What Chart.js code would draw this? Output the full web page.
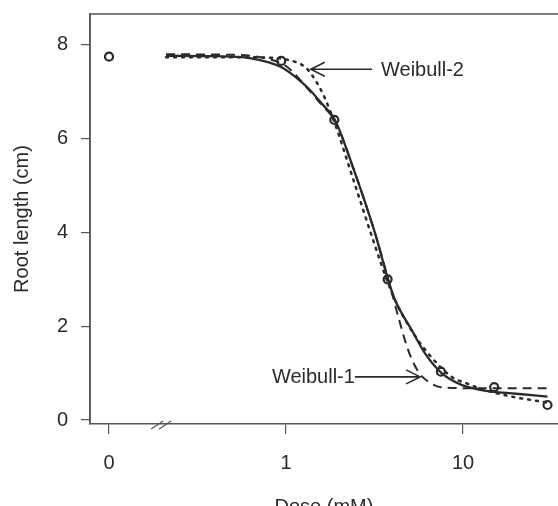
<!DOCTYPE html>
<html lang="en">
<head>
    <meta charset="UTF-8">
    <title>Root length vs dose</title>
    <style>
        body {
            margin: 0;
            background: #fff;
        }
        .wrap {
            width: 558px;
            height: 506px;
        }
    </style>
</head>
<body>
    <div class="wrap"><canvas id="doseChart"></canvas></div>

    <script src="https://cdn.jsdelivr.net/npm/chart.js"></script>
    <script>
        // observed root length (cm) at each dose (mM); dose 0 is drawn at zeroPos on the log axis
        const doses = [0, 0.94, 1.875, 3.75, 7.5, 15, 30];
        const rootLength = [7.75, 7.66, 6.4, 3.0, 1.03, 0.70, 0.32];
        const zeroPos = 0.1;

        // fitted curves
        const llDose = [0.21, 0.4, 0.6, 0.8, 0.95, 1.12, 1.34, 1.59, 1.89, 2.39, 3.18, 3.77, 4.13, 5.13, 6.1, 7.57, 9.8, 12.7, 20, 30];
        const llFit  = [7.77, 7.76, 7.73, 7.63, 7.52, 7.33, 7.07, 6.75, 6.40, 5.39, 3.99, 3.0, 2.56, 1.92, 1.42, 1.0, 0.75, 0.64, 0.56, 0.50];

        const w1Dose = [0.21, 0.5, 0.8, 1.0, 1.34, 1.59, 1.89, 2.39, 3.18, 3.77, 4.31, 4.9, 5.59, 6.37, 7.5, 10, 30];
        const w1Fit  = [7.80, 7.79, 7.70, 7.55, 7.05, 6.72, 6.38, 5.39, 3.99, 3.02, 2.20, 1.49, 1.03, 0.82, 0.70, 0.68, 0.68];

        const w2Dose = [0.21, 0.5, 0.8, 1.03, 1.28, 1.40, 1.56, 1.66, 1.89, 2.39, 3.18, 3.77, 4.3, 5.24, 6.23, 8.63, 10.5, 13, 16, 20, 25, 30];
        const w2Fit  = [7.74, 7.74, 7.73, 7.68, 7.53, 7.36, 7.07, 6.86, 6.32, 5.15, 3.72, 2.92, 2.42, 1.85, 1.46, 0.92, 0.78, 0.65, 0.56, 0.48, 0.42, 0.37];

        // axis ticks
        const xTicks = [zeroPos, 1, 10];
        const xTickLabels = ['0', '1', '10'];
        const yTicks = [0, 2, 4, 6, 8];

        // arrow labels: text, arrow tip (dose, value), arrow tail dose
        const noteText = ['Weibull-2', 'Weibull-1'];
        const noteTipDose = [1.38, 5.72];
        const noteTipVal = [7.48, 0.92];
        const noteTailDose = [3.06, 2.45];
        const breakDose = 0.197;

        const ink = '#2a2a2a';
        const frame = '#555';
        const fontFamily = '"Liberation Sans", Arial, sans-serif';

        const toXY = (xs, ys) => xs.map((d, i) => ({ x: d, y: ys[i] }));

        // no extra room for half-height tick labels: the frame sits where it sits
        const noPad = (s) => {
            s.paddingTop = 0; s.paddingBottom = 0;
            s.paddingLeft = 0; s.paddingRight = 0;
        };

        const decor = {
            id: 'decor',
            afterDraw(chart) {
                const { ctx, chartArea: a, scales: { x, y } } = chart;
                ctx.save();
                // frame top + left
                ctx.strokeStyle = frame;
                ctx.lineWidth = 1.5;
                ctx.beginPath();
                ctx.moveTo(a.left, a.bottom);
                ctx.lineTo(a.left, a.top);
                ctx.lineTo(a.right + 2, a.top);
                ctx.stroke();

                // axis break marks
                const bx = x.getPixelForValue(breakDose);
                ctx.lineWidth = 1.2;
                ctx.beginPath();
                ctx.moveTo(bx - 10, a.bottom + 5); ctx.lineTo(bx + 2, a.bottom - 3);
                ctx.moveTo(bx - 2, a.bottom + 5); ctx.lineTo(bx + 10, a.bottom - 3);
                ctx.stroke();

                // labels with arrows
                ctx.strokeStyle = ink;
                ctx.fillStyle = ink;
                ctx.lineWidth = 1.6;
                ctx.font = '20px ' + fontFamily;
                ctx.textBaseline = 'middle';
                noteText.forEach((t, i) => {
                    const tx = x.getPixelForValue(noteTipDose[i]);
                    const ty = y.getPixelForValue(noteTipVal[i]);
                    const sx = x.getPixelForValue(noteTailDose[i]);
                    const dir = sx > tx ? 1 : -1;
                    ctx.beginPath();
                    ctx.moveTo(sx, ty); ctx.lineTo(tx, ty);
                    ctx.moveTo(tx + dir * 14, ty - 7); ctx.lineTo(tx, ty); ctx.lineTo(tx + dir * 14, ty + 7);
                    ctx.stroke();
                    if (dir > 0) {
                        ctx.textAlign = 'left';
                        ctx.fillText(t, sx + 9, ty + 1);
                    } else {
                        ctx.textAlign = 'right';
                        ctx.fillText(t, sx, ty + 1);
                    }
                });
                ctx.restore();
            }
        };

        const ctx = document.getElementById('doseChart').getContext('2d');
        new Chart(ctx, {
            type: 'scatter',
            data: {
                datasets: [
                    {
                        label: 'Observed',
                        data: doses.map((d, i) => ({ x: d === 0 ? zeroPos : d, y: rootLength[i] })),
                        pointStyle: 'circle',
                        pointRadius: 4,
                        pointBorderWidth: 2.2,
                        borderColor: ink,
                        backgroundColor: 'rgba(0,0,0,0)',
                        showLine: false
                    },
                    {
                        label: 'Log-logistic',
                        data: toXY(llDose, llFit),
                        showLine: true,
                        pointRadius: 0,
                        borderColor: ink,
                        borderWidth: 2.3,
                        cubicInterpolationMode: 'monotone'
                    },
                    {
                        label: 'Weibull-1',
                        data: toXY(w1Dose, w1Fit),
                        showLine: true,
                        pointRadius: 0,
                        borderColor: ink,
                        borderWidth: 2,
                        borderDash: [9, 6],
                        cubicInterpolationMode: 'monotone'
                    },
                    {
                        label: 'Weibull-2',
                        data: toXY(w2Dose, w2Fit),
                        showLine: true,
                        pointRadius: 0,
                        borderColor: ink,
                        borderWidth: 2.5,
                        borderDash: [2, 6],
                        borderCapStyle: 'round',
                        cubicInterpolationMode: 'monotone'
                    }
                ]
            },
            options: {
                responsive: true,
                maintainAspectRatio: false,
                animation: false,
                layout: { autoPadding: false, padding: { top: 14, right: 0, left: 0, bottom: 0 } },
                plugins: {
                    legend: { display: false },
                    tooltip: { enabled: false }
                },
                scales: {
                    x: {
                        type: 'logarithmic',
                        min: 0.0781,
                        max: 34.4,
                        afterBuildTicks: (s) => { s.ticks = xTicks.map(v => ({ value: v })); },
                        afterFit: (s) => { s.height = 82; noPad(s); },
                        grid: { drawOnChartArea: false, tickLength: 10, color: frame, lineWidth: 1.2 },
                        border: { display: true, color: frame, width: 1.5 },
                        ticks: {
                            autoSkip: false,
                            maxRotation: 0,
                            padding: 17,
                            color: ink,
                            font: { family: fontFamily, size: 20 },
                            callback: (v) => xTickLabels[xTicks.indexOf(v)]
                        },
                        title: {
                            display: true,
                            text: 'Dose (mM)',
                            color: ink,
                            font: { family: fontFamily, size: 20 },
                            padding: { top: 0, bottom: -13 }
                        }
                    },
                    y: {
                        min: -0.085,
                        max: 8.66,
                        afterBuildTicks: (s) => { s.ticks = yTicks.map(v => ({ value: v })); },
                        afterFit: (s) => { s.width = 90; noPad(s); },
                        grid: { drawOnChartArea: false, tickLength: 9, color: frame, lineWidth: 1.2 },
                        border: { display: true, color: frame, width: 1.5 },
                        ticks: {
                            padding: 13,
                            color: ink,
                            font: { family: fontFamily, size: 20 }
                        },
                        title: {
                            display: true,
                            text: 'Root length (cm)',
                            color: ink,
                            font: { family: fontFamily, size: 20 },
                            padding: { top: 10, bottom: 0 }
                        }
                    }
                }
            },
            plugins: [decor]
        });
    </script>
</body>
</html>
